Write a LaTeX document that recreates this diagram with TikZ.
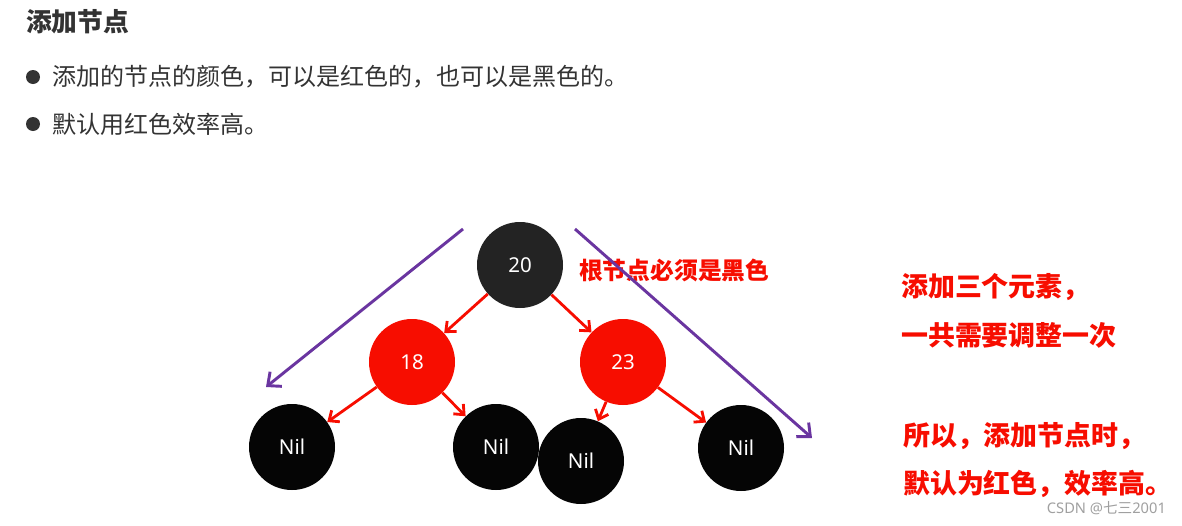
\documentclass[tikz,border=0pt]{standalone}
\usepackage{fontspec}
\setmainfont{Noto Sans}
\newfontfamily\cjk{Noto Sans CJK SC}
\usetikzlibrary{arrows.meta}
\definecolor{rbred}{HTML}{F70D00}
\definecolor{rbblack}{HTML}{050505}
\definecolor{rootgray}{HTML}{232323}
\definecolor{txtgray}{HTML}{333333}
\definecolor{lila}{HTML}{6A35A0}
\definecolor{wmgray}{HTML}{A0A0A0}

\begin{document}
\begin{tikzpicture}[x=0.03cm,y=-0.03cm,
    rbnode/.style={circle,minimum size=2.58cm,inner sep=0pt,text=white,font=\fontsize{17.5}{19}\selectfont},
    redarrow/.style={draw=rbred,line width=2.4pt,-{Straight Barb[length=7pt,width=12pt]}},
    purplearrow/.style={draw=lila,line width=2.5pt,-{Straight Barb[length=9pt,width=16pt]}},
    note/.style={anchor=west,text=rbred,font=\cjk\bfseries\fontsize{23}{25}\selectfont}]
        \useasboundingbox[fill=white] (0,0) rectangle (1182,525);

        % header and bullets
        \node[anchor=west,text=txtgray,font=\cjk\bfseries\fontsize{22}{24}\selectfont] (title) at (22,22) {添加节点};
        \fill[txtgray] (33,77) circle (7);
        \node[anchor=west,text=txtgray,font=\cjk\fontsize{20.5}{22}\selectfont] (b1) at (48,77) {添加的节点的颜色，可以是红色的，也可以是黑色的。};
        \fill[txtgray] (33,124) circle (7);
        \node[anchor=west,text=txtgray,font=\cjk\fontsize{20.5}{22}\selectfont] (b2) at (48,124) {默认用红色效率高。};

        % tree
        \node[rbnode,fill=rootgray] (n20) at (520,265) {20};
        \node[rbnode,fill=rbred] (n18) at (412,362) {18};
        \node[rbnode,fill=rbred] (n23) at (623,362) {23};
        \node[rbnode,fill=rbblack] (nil1) at (292,447) {Nil};
        \node[rbnode,fill=rbblack] (nil2) at (496,447) {Nil};
        \node[rbnode,fill=rbblack] (nil3) at (581,461) {Nil};
        \node[rbnode,fill=rbblack] (nil4) at (741,448) {Nil};

        \draw[redarrow] (n20) -- (n18);
        \draw[redarrow] (n20) -- (n23);
        \draw[redarrow] (n18) -- (nil1);
        \draw[redarrow] (n18) -- (nil2);
        \draw[redarrow] (n23) -- (nil3);
        \draw[redarrow] (n23) -- (nil4);

        \node[note,font=\cjk\bfseries\fontsize{20.3}{22}\selectfont] (rootnote) at (575,270) {根节点必须是黑色};

        % traversal arrows
        \coordinate (L1) at (463,229);
        \coordinate (L2) at (266,387);
        \coordinate (R1) at (575,229);
        \coordinate (R2) at (812,438);
        \draw[purplearrow] (L1) -- (L2);
        \draw[purplearrow] (R1) -- (R2);

        % notes on the right
        \node[note] (t1) at (897,287) {添加三个元素，};
        \node[note] (t2) at (897,335) {一共需要调整一次};
        \node[note] (t3) at (899,436) {所以，添加节点时，};
        \node[note] (t4) at (899,484) {默认为红色，效率高。};

        \node[anchor=east,text=wmgray,font=\fontsize{12.5}{14}\selectfont] (wm) at (1170,508) {CSDN @{\cjk 七三}2001};
    \end{tikzpicture}
\end{document}
